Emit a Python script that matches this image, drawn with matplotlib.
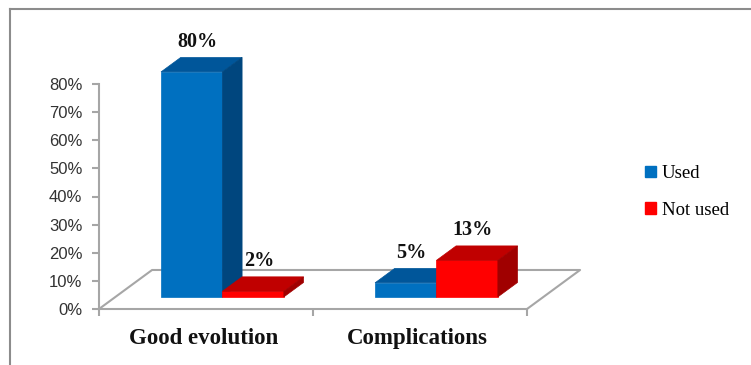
import matplotlib
matplotlib.use("Agg")
import matplotlib.pyplot as plt
from matplotlib.lines import Line2D
from matplotlib.patches import Patch, Polygon

# data
categories = ["Good evolution", "Complications"]
series = ["Used", "Not used"]
used = [0.80, 0.05]
not_used = [0.02, 0.13]
yticks = [0.0, 0.1, 0.2, 0.3, 0.4, 0.5, 0.6, 0.7, 0.8]
ytick_labels = ["0%", "10%", "20%", "30%", "40%", "50%", "60%", "70%", "80%"]

values = {"Used": used, "Not used": not_used}
front = {"Used": "#0070C0", "Not used": "#FF0000"}
top = {"Used": "#00569A", "Not used": "#C00000"}
side = {"Used": "#00467E", "Not used": "#A00000"}
GRID = "#A6A6A6"

W, H = 751, 365
fig = plt.figure(figsize=(W / 100, H / 100), dpi=100)
ax = fig.add_axes([99 / W, (H - 309) / H, (527 - 99) / W, (309 - 84) / H])
ax.set_xlim(0, 2)
ax.set_ylim(0, 0.8)

# fake 3d: full floor depth in data units
dx, dy = 0.248, 0.1387
f0, f1 = 0.31, 0.68
bar_w = 0.287

# floor outline (front edge is the bottom spine)
ax.plot([0, dx, 2 + dx, 2], [0, dy, dy, 0], color=GRID, lw=1.5,
        clip_on=False, zorder=1)

sx, sy = f0 * dx, f0 * dy
ddx, ddy = (f1 - f0) * dx, (f1 - f0) * dy
for i, cat in enumerate(categories):
    for j, s in enumerate(series):
        v = values[s][i]
        x0 = i + 0.5 - bar_w + j * bar_w + sx
        x1 = x0 + bar_w
        faces = [
            ([(x0, sy), (x1, sy), (x1, sy + v), (x0, sy + v)], front[s]),
            ([(x0, sy + v), (x1, sy + v), (x1 + ddx, sy + v + ddy),
              (x0 + ddx, sy + v + ddy)], top[s]),
            ([(x1, sy), (x1 + ddx, sy + ddy), (x1 + ddx, sy + v + ddy),
              (x1, sy + v)], side[s]),
        ]
        for pts, c in faces:
            ax.add_patch(Polygon(pts, closed=True, facecolor=c, edgecolor=c,
                                 lw=0.5, clip_on=False, zorder=3))
        cx = (x0 + x1) / 2 + ddx / 2
        cy = sy + v + ddy / 2
        ax.annotate(f"{v * 100:.0f}%", (cx, cy), xytext=(-3, 16.5),
                    textcoords="offset points", ha="center", va="center",
                    fontsize=14.5, fontweight="bold", family="Liberation Serif",
                    color="#111111", zorder=5, annotation_clip=False)
    ax.annotate(cat, (i + 0.5, 0), xytext=(-2, -21), textcoords="offset points",
                ha="center", va="center", fontsize=16.5, fontweight="bold",
                family="Liberation Serif", color="#111111",
                annotation_clip=False)

for name in ("top", "right"):
    ax.spines[name].set_visible(False)
for name in ("left", "bottom"):
    ax.spines[name].set_color(GRID)
    ax.spines[name].set_linewidth(1.5)
ax.set_xticks([0, 1, 2])
ax.set_xticklabels([])
ax.set_yticks(yticks)
ax.set_yticklabels(ytick_labels, family="Liberation Sans", fontsize=12,
                   color="#333333")
ax.tick_params(axis="both", direction="out", length=5, width=1.5, color=GRID)
ax.tick_params(axis="y", pad=7)
ax.patch.set_visible(False)

handles = [Patch(facecolor=front[s], edgecolor=front[s]) for s in series]
fig.legend(handles, series, loc="center left",
           bbox_to_anchor=(628 / W, 1 - 192 / H), frameon=False,
           prop={"family": "Liberation Serif", "size": 13.5},
           handlelength=0.6, handleheight=0.6, handletextpad=0.3,
           labelspacing=1.05)

# chart area border (left and top edges visible in the crop)
fig.add_artist(Line2D([10 / W, 10 / W], [0, 1 - 9 / H],
                      transform=fig.transFigure, color="#8C8C8C", lw=1.5))
fig.add_artist(Line2D([10 / W, 1], [1 - 9 / H, 1 - 9 / H],
                      transform=fig.transFigure, color="#8C8C8C", lw=1.5))

fig.savefig("out.png", dpi=100)
